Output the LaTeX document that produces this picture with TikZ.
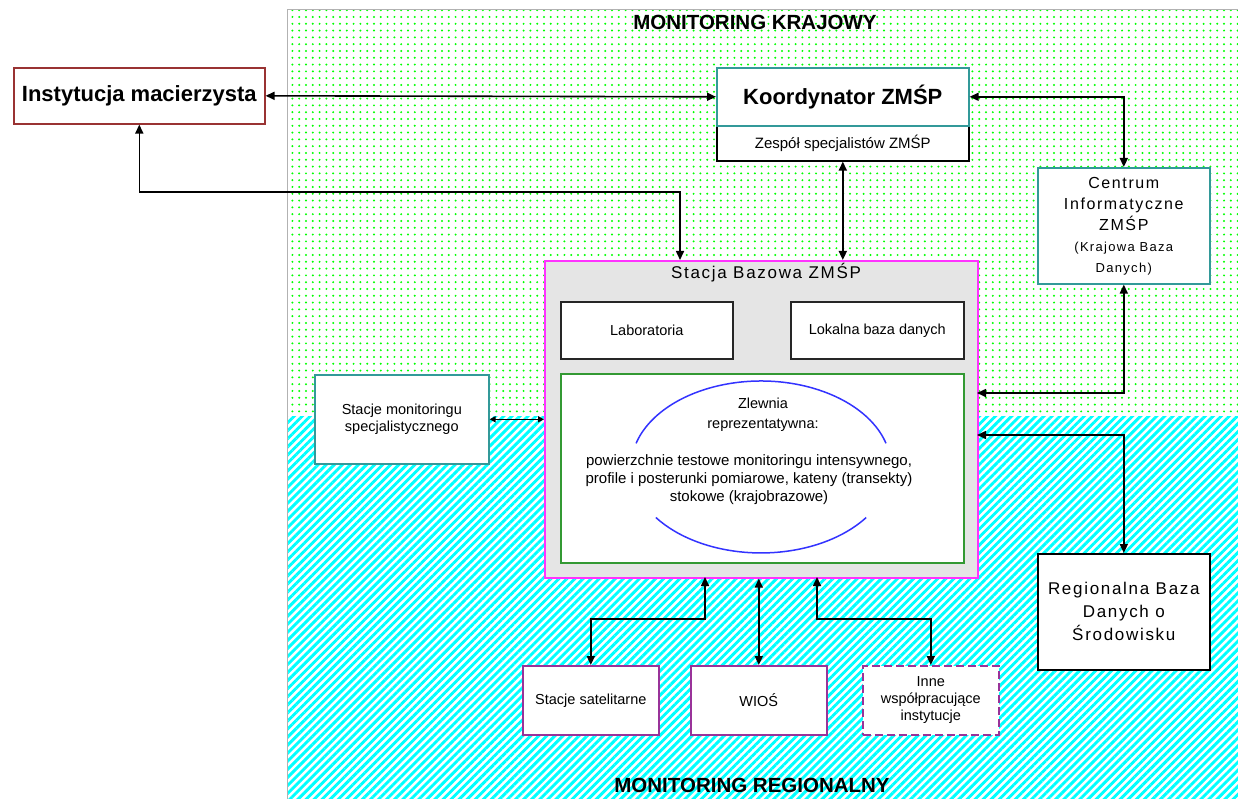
\documentclass[tikz,border=0pt]{standalone}
\usepackage{fontspec}
\setmainfont{Liberation Sans}
\newfontfamily\wide[LetterSpace=10]{Liberation Sans}
\usetikzlibrary{patterns.meta,arrows.meta,calc}
\definecolor{instred}{HTML}{993333}
\definecolor{teal2}{HTML}{339999}
\definecolor{mag}{HTML}{FF33FF}
\definecolor{purp}{HTML}{993399}
\definecolor{grn}{HTML}{339933}
\definecolor{dotgreen}{HTML}{00FF00}
\definecolor{sbfill}{HTML}{E5E5E5}
\definecolor{ellblue}{HTML}{3333FF}
\begin{document}
\begin{tikzpicture}[x=1pt,y=-1pt,
  box/.style={draw, fill=white, line width=1.6pt, inner sep=0pt, anchor=north west, align=center},
  arr/.style={line width=1.6pt, {Triangle[length=9pt,width=8pt]}-{Triangle[length=9pt,width=8pt]}},
  sarr/.style={line width=1.6pt, {Triangle[length=6pt,width=6pt]}-{Triangle[length=6pt,width=6pt]}},
  small/.style={font=\fontsize{14.5}{17}\selectfont, align=center},
  title/.style={font=\fontsize{20.5}{23}\selectfont\bfseries}]
\useasboundingbox (0,0) rectangle (1238,799);
\fill[white] (0,0) rectangle (1238,799);
\path[pattern={Dots[radius=1.1pt,distance=6.8pt]}, pattern color=dotgreen] (287,10) rectangle (1238,416);
\path[pattern={Lines[angle=45,distance=5.7pt,line width=2.9pt]}, pattern color=cyan] (287,416) rectangle (1238,799);
\draw[gray!60, line width=1pt] (1238,10) -- (287,10) -- (287,799);

\node[title] (mk) at (755,22) {MONITORING KRAJOWY};
\node[title] (mr) at (752,785) {MONITORING REGIONALNY};

\node[box, draw=instred, minimum width=251pt, minimum height=56pt, font=\fontsize{22}{25}\selectfont\bfseries] (inst) at (13,67)
  {Instytucja macierzysta};
\node[box, draw=black, minimum width=252pt, minimum height=35pt, small, font=\fontsize{15}{18}\selectfont] (zes) at (716,125)
  {Zespół specjalistów ZMŚP};
\node[box, draw=teal2, minimum width=252pt, minimum height=58pt, font=\fontsize{22}{25}\selectfont\bfseries] (kor) at (716,67)
  {Koordynator ZMŚP};
\node[box, draw=teal2, minimum width=172pt, minimum height=116pt, font=\wide\fontsize{16}{21}\selectfont] (cent) at (1037,167)
  {Centrum\\Informatyczne\\ZMŚP\\\fontsize{13}{18}\selectfont (Krajowa Baza\\\fontsize{13}{18}\selectfont Danych)};

\node[box, draw=mag, fill=sbfill, minimum width=433pt, minimum height=317pt] (sb) at (544,260) {};
\node[font=\wide\fontsize{17}{20}\selectfont] (sbt) at (766,273) {Stacja Bazowa ZMŚP};
\node[box, draw=black!85, minimum width=172pt, minimum height=57pt, small] (lab) at (560,301) {Laboratoria};
\node[box, draw=black!85, minimum width=173pt, minimum height=57pt, small] (lok) at (790,301) {Lokalna baza danych};
\node[box, draw=grn, minimum width=403pt, minimum height=189pt] (zlw) at (560,373) {};
\draw[ellblue, line width=1.5pt] (886,443.3) arc[start angle=16, end angle=164, x radius=130pt, y radius=86pt];
\draw[ellblue, line width=1.5pt] (866.2,517.5) arc[start angle=-36, end angle=-144, x radius=130pt, y radius=86pt];
\node[small, font=\fontsize{14.5}{20}\selectfont] (zl1) at (763,415) {Zlewnia\\reprezentatywna:};
\node[small, font=\fontsize{15}{18}\selectfont] (zl2) at (749,480)
  {powierzchnie testowe monitoringu intensywnego,\\profile i posterunki pomiarowe, kateny (transekty)\\stokowe (krajobrazowe)};

\node[box, draw=teal2, minimum width=174pt, minimum height=89pt, small] (smon) at (314,374)
  {Stacje monitoringu\\specjalistycznego};
\node[box, draw=purp, minimum width=136pt, minimum height=69pt, small] (sat) at (522,665) {Stacje satelitarne};
\node[box, draw=purp, minimum width=136pt, minimum height=69pt, small] (wios) at (690,665) {WIOŚ};
\node[box, draw=purp, dashed, dash pattern=on 8pt off 4pt, minimum width=136pt, minimum height=69pt, small] (inne) at (862,665)
  {Inne\\współpracujące\\instytucje};
\node[box, draw=black, minimum width=172pt, minimum height=116pt, font=\wide\fontsize{17}{23}\selectfont] (reg) at (1037,553)
  {Regionalna Baza\\Danych o\\Środowisku};

% connectors
\coordinate (j1) at (680,192);
\coordinate (j2) at (977,393);
\coordinate (j3) at (977,435);
\coordinate (j4) at (705,577);
\coordinate (j5) at (705,619);
\coordinate (j6) at (817,577);
\coordinate (j7) at (817,619);
\draw[arr] (inst.east) -- (kor.west);
\draw[arr] (inst.south) |- (j1) -- (j1 |- sb.north);
\draw[arr] (zes.south) -- (zes.south |- sb.north);
\draw[arr] (kor.east) -| (cent.north);
\draw[arr] (cent.south) |- (j2);
\draw[arr] (j3) -| (reg.north);
\draw[sarr] (smon.east) -- (smon.east -| sb.west);
\draw[arr] (j4) -- (j5) -| (sat.north);
\draw[arr] (wios.north) -- (wios.north |- sb.south);
\draw[arr] (j6) -- (j7) -| (inne.north);
\end{tikzpicture}
\end{document}
